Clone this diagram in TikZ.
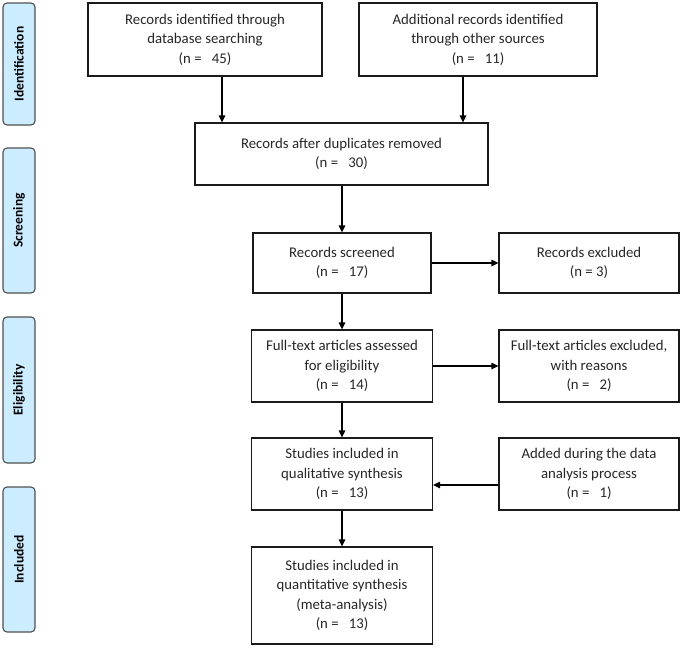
\documentclass[tikz,border=0pt]{standalone}
\usepackage{fontspec}
\setmainfont{Carlito}
\usetikzlibrary{arrows.meta}
\definecolor{sidefill}{HTML}{CCECFF}
\definecolor{sideline}{HTML}{505050}
\definecolor{boxline}{HTML}{1A1A1A}
\tikzset{
  box/.style={draw=boxline, line width=1.2pt, align=center, inner sep=2pt,
    font=\fontsize{14.8}{19.5}\selectfont, text=black!85},
  side/.style={draw=sideline, fill=sidefill, line width=1.1pt, rounded corners=4pt,
    rotate=90, font=\bfseries\fontsize{13.5}{15}\selectfont},
  arr/.style={line width=1.2pt, -{Triangle[length=7pt,width=6.5pt]}}
}
\begin{document}
\begin{tikzpicture}[x=1pt,y=-1pt]
\useasboundingbox (0,0) rectangle (685,648);
% side labels
\node[side, minimum width=122pt, minimum height=32pt] (sid) at (19,64) {Identification};
\node[side, minimum width=145pt, minimum height=32pt] (sscr) at (19,220.5) {Screening};
\node[side, minimum width=146pt, minimum height=32pt] (selig) at (19,390) {Eligibility};
\node[side, minimum width=145pt, minimum height=32pt] (sinc) at (19,559.5) {Included};
% boxes
\node[box, minimum width=234pt, minimum height=73pt] (id1) at (205,39.5) {Records identified through\\database searching\\(n =\ \ \ 45)};
\node[box, minimum width=238pt, minimum height=73pt] (id2) at (478,39.5) {Additional records identified\\through other sources\\(n =\ \ \ 11)};
\node[box, minimum width=293pt, minimum height=62pt] (dup) at (341.5,154) {Records after duplicates removed\\(n =\ \ \ 30)};
\node[box, minimum width=178pt, minimum height=60pt] (scr) at (342,263) {Records screened\\(n =\ \ \ 17)};
\node[box, minimum width=180pt, minimum height=60pt] (exc) at (589,263) {Records excluded\\(n = 3)};
\node[box, minimum width=181pt, minimum height=72pt] (ft) at (342,366) {Full-text articles assessed\\for eligibility\\(n =\ \ \ 14)};
\node[box, minimum width=180pt, minimum height=72pt] (ftx) at (589,366) {Full-text articles excluded,\\with reasons\\(n =\ \ \ 2)};
\node[box, minimum width=181pt, minimum height=72pt] (qual) at (342,474) {Studies included in\\qualitative synthesis\\(n =\ \ \ 13)};
\node[box, minimum width=180pt, minimum height=72pt] (add) at (589,474) {Added during the data\\analysis process\\(n =\ \ \ 1)};
\node[box, minimum width=181pt, minimum height=97pt] (quant) at (342,595.5) {Studies included in\\quantitative synthesis\\(meta-analysis)\\(n =\ \ \ 13)};
% arrows
\draw[arr] ([xshift=17pt]id1.south) -- ([xshift=17pt]id1.south |- dup.north);
\draw[arr] ([xshift=-15pt]id2.south) -- ([xshift=-15pt]id2.south |- dup.north);
\draw[arr] (dup.south -| scr.north) -- (scr.north);
\draw[arr] (scr.east) -- (exc.west);
\draw[arr] (scr.south) -- (scr.south |- ft.north);
\draw[arr] (ft.east) -- (ftx.west);
\draw[arr] (ft.south) -- (qual.north);
\draw[arr] ([yshift=-11pt]add.west) -- ([yshift=-11pt]add.west -| qual.east);
\draw[arr] (qual.south) -- (quant.north);
\end{tikzpicture}
\end{document}
